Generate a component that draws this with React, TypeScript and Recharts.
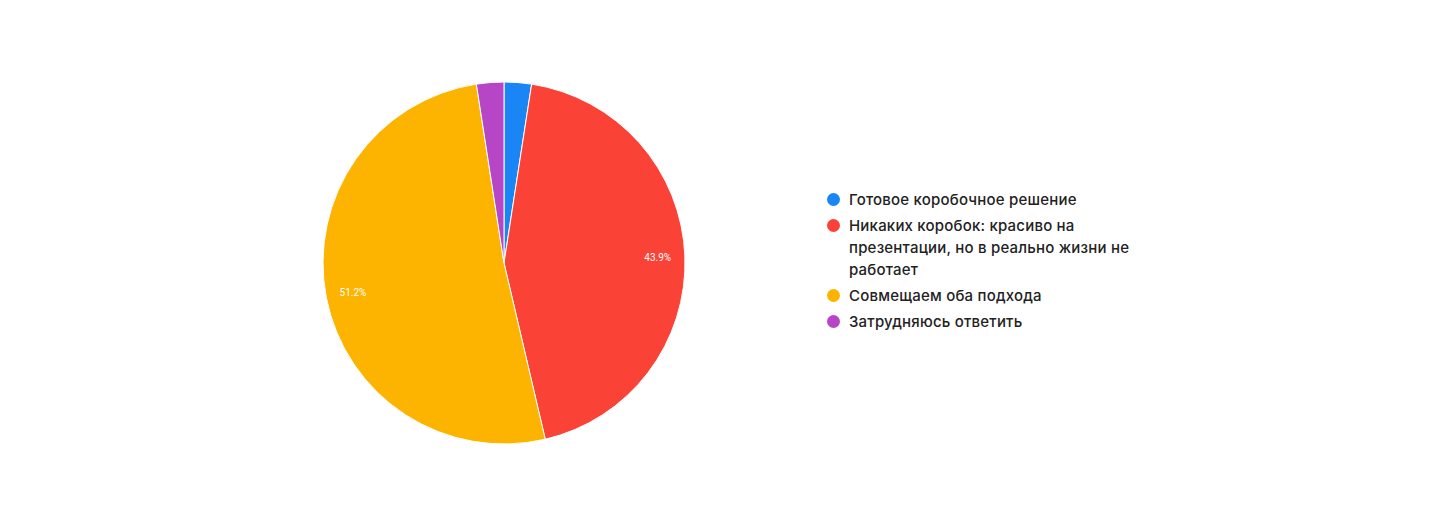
import React from 'react';
import { PieChart, Pie, Cell, Legend } from 'recharts';

// Данные опроса
const categories = [
  'Готовое коробочное решение',
  'Никаких коробок: красиво на презентации, но в реально жизни не работает',
  'Совмещаем оба подхода',
  'Затрудняюсь ответить'
];
const counts = [1, 18, 21, 1];
const colors = ['#1a86f5', '#fb4236', '#fdb400', '#b746c7'];

const data = categories.map((name, i) => ({ name, value: counts[i] }));
const total = counts.reduce((a, b) => a + b, 0);

const RADIAN = Math.PI / 180;

const renderLabel = (props: any) => {
  const { cx, cy, midAngle, outerRadius, value } = props;
  const pct = (value / total) * 100;
  if (pct < 5) return null;
  const r = outerRadius * 0.85;
  const x = cx + r * Math.cos(-midAngle * RADIAN);
  const y = cy + r * Math.sin(-midAngle * RADIAN);
  return (
    <text x={x} y={y} fill="#ffffff" fontSize={10} textAnchor="middle" dominantBaseline="central"
      style={{ fontFamily: 'Roboto, sans-serif' }}>
      {pct.toFixed(1)}%
    </text>
  );
};

const renderLegend = () => (
  <div style={{ width: 320, fontFamily: 'Inter, sans-serif', fontSize: 15, fontWeight: 500, letterSpacing: 0.2, color: '#222', lineHeight: '22px' }}>
    {categories.map((name, i) => (
      <div key={name} style={{ display: 'flex', alignItems: 'flex-start', marginBottom: 4 }}>
        <span style={{
          flex: '0 0 auto',
          width: 13,
          height: 13,
          borderRadius: '50%',
          backgroundColor: colors[i],
          marginTop: 4,
          marginRight: 9
        }} />
        <span style={{ width: 292 }}>{name}</span>
      </div>
    ))}
  </div>
);

const App: React.FC = () => (
  <div style={{ position: 'absolute', left: 0, top: 0, background: '#fff' }}>
    <PieChart width={1430} height={526} margin={{ top: 0, right: 0, bottom: 0, left: 0 }}>
      <Pie
        data={data}
        dataKey="value"
        nameKey="name"
        cx={504}
        cy={263}
        outerRadius={181}
        startAngle={90}
        endAngle={-270}
        stroke="#ffffff"
        strokeWidth={1}
        label={renderLabel}
        labelLine={false}
        isAnimationActive={false}
      >
        {data.map((d, i) => (
          <Cell key={d.name} fill={colors[i]} />
        ))}
      </Pie>
      <Legend
        content={renderLegend}
        wrapperStyle={{ position: 'absolute', left: 827, top: 189, width: 320 }}
      />
    </PieChart>
  </div>
);

export default App;
